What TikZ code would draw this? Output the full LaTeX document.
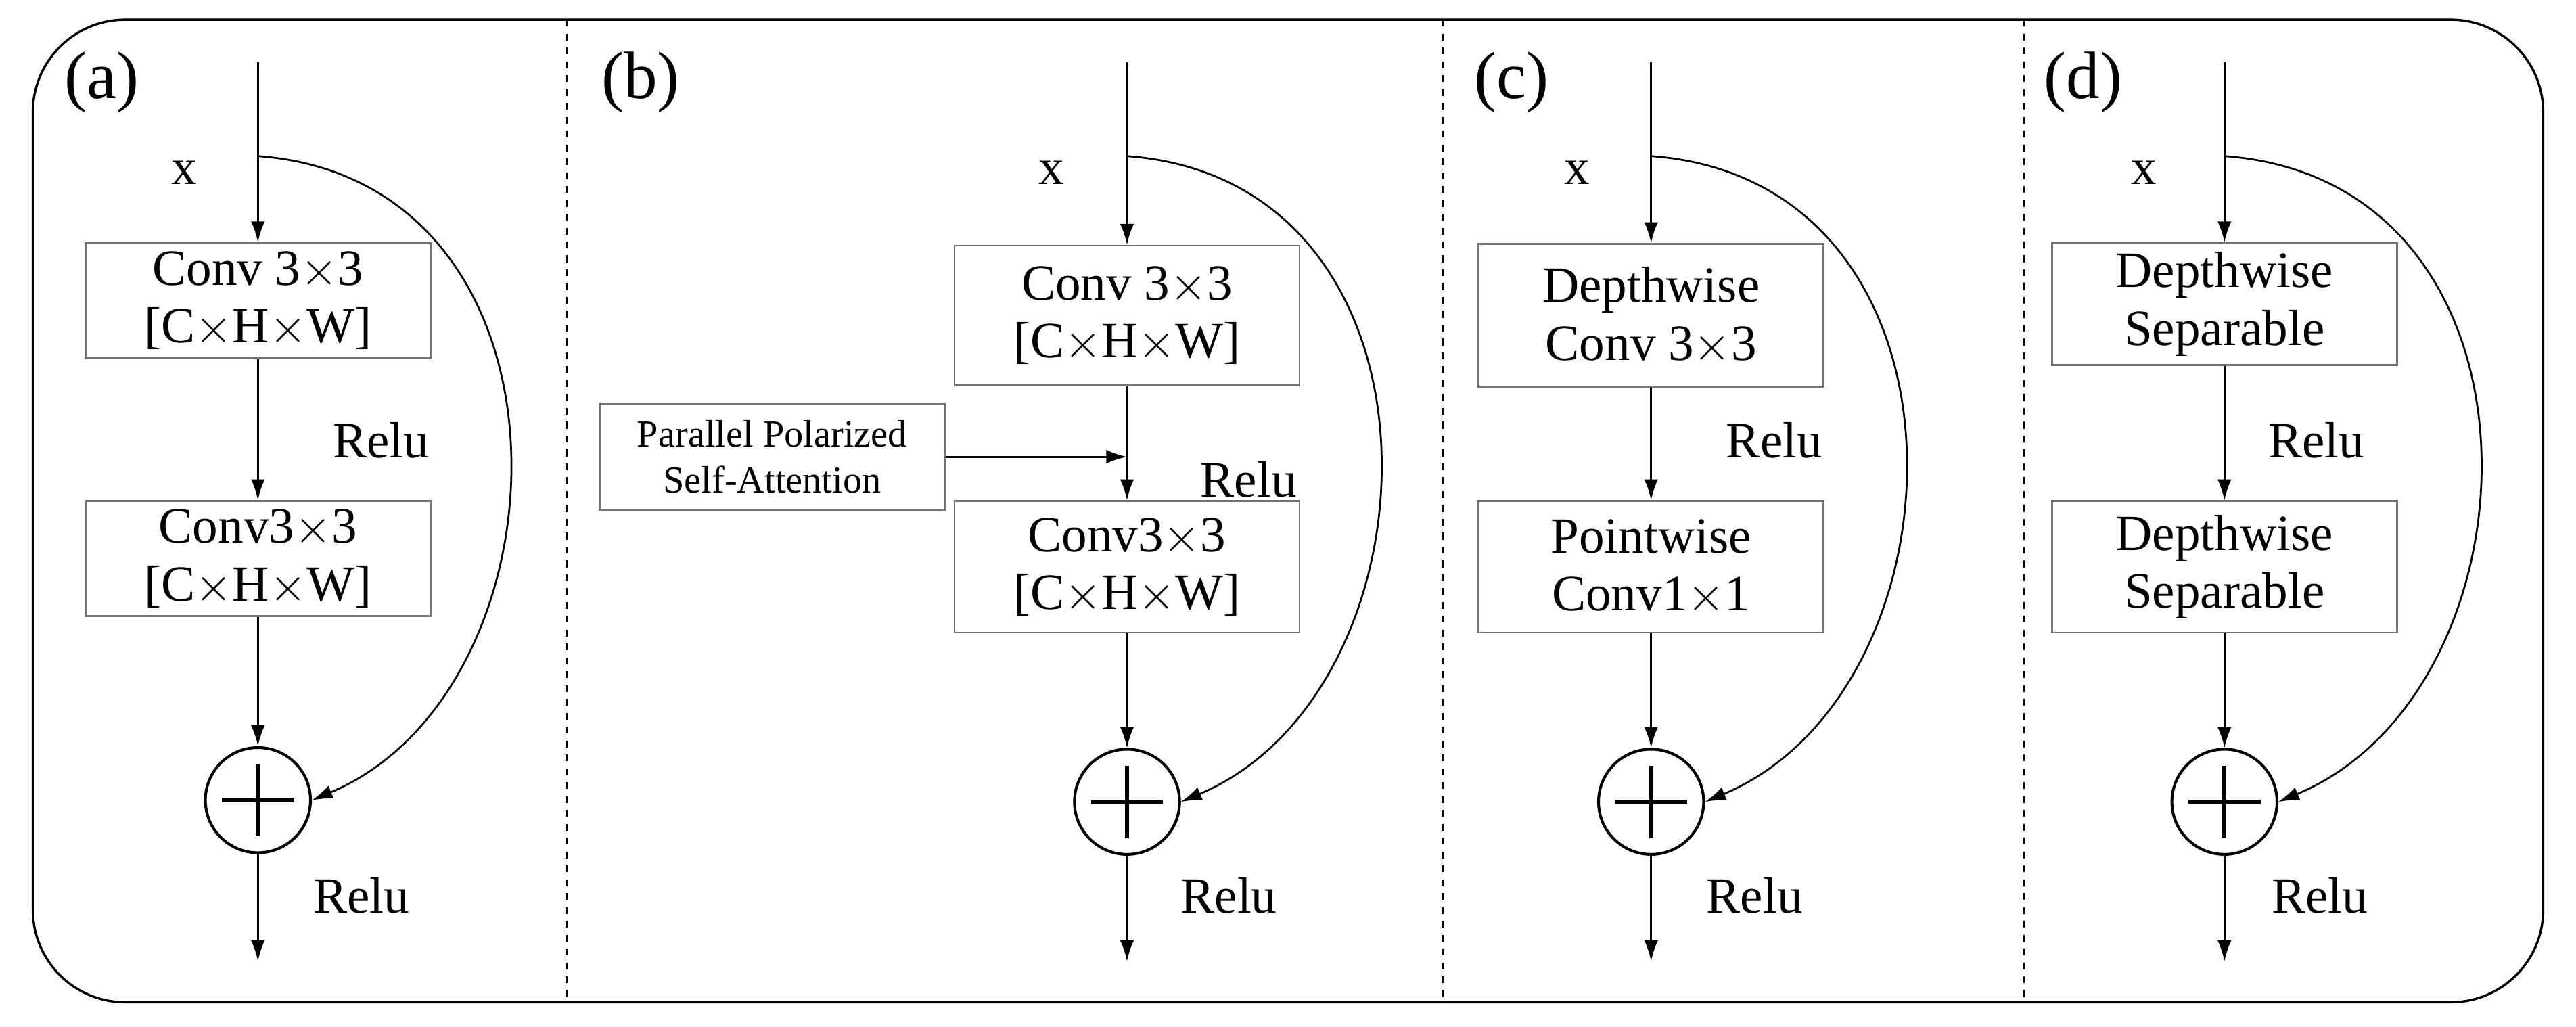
\documentclass[tikz,border=0pt]{standalone}
\usepackage{fontspec}
\setmainfont{Liberation Serif}
\usetikzlibrary{arrows.meta,positioning,calc}
\tikzset{
  blk/.style={draw=black!55, line width=0.8pt, align=center, inner sep=0pt,
    minimum width=105*0.025cm*2, font=\fontsize{22}{25}\selectfont},
  lbl/.style={font=\fontsize{22}{25}\selectfont, inner sep=0pt},
  tag/.style={font=\fontsize{29}{31}\selectfont, inner sep=0pt},
  sum/.style={draw, circle, line width=1.2pt, minimum size=64*0.025cm, inner sep=0pt},
  flow/.style={-{Latex[length=9pt,width=6pt]}, line width=0.8pt},
}
\newcommand{\PlusMark}[1]{
  \draw[line width=1.8pt] ($(#1)+(-22,0)$) -- ($(#1)+(22,0)$);
  \draw[line width=1.8pt] ($(#1)+(0,-22)$) -- ($(#1)+(0,22)$);
}
\newcommand{\CHW}{{}[C$\times$H$\times$W]}
\begin{document}
\begin{tikzpicture}[x=0.025cm,y=-0.025cm]
\useasboundingbox (0,0) rectangle (1568,625);
\draw[line width=1pt, rounded corners=40] (20,12) rectangle (1548,610);
\foreach \xd in {345,878,1232}
  \draw[dashed, line width=0.8pt] (\xd,12) -- (\xd,610);

% (a)
\node[tag] (ta) at (62,50) {(a)};
\coordinate (ain) at (157,38);
\node[lbl] (ax) at (112,105) {x};
\node[blk, minimum height=70*0.025cm] (a1) at (157,183) {Conv 3$\times$3\\\CHW};
\node[blk, minimum height=70*0.025cm] (a2) at (157,340) {Conv3$\times$3\\\CHW};
\node[lbl] (ar1) at (232,268) {Relu};
\node[sum] (as) at (157,487) {};
\PlusMark{as}
\node[lbl] (ar2) at (220,545) {Relu};
\coordinate (aout) at (157,585);
\draw[flow] (ain) -- (a1);
\draw[flow] (a1) -- (a2);
\draw[flow] (a2) -- (as);
\draw[flow] (as) -- (aout);
\draw[flow] (157,95) .. controls (360,110) and (350,420) .. (as.east);

% (b)
\node[tag] (tb) at (390,50) {(b)};
\coordinate (bin) at (686,38);
\node[lbl] (bx) at (640,105) {x};
\node[blk, minimum height=85*0.025cm] (b1) at (686,192) {Conv 3$\times$3\\\CHW};
\node[blk, minimum height=80*0.025cm] (b2) at (686,345) {Conv3$\times$3\\\CHW};
\node[blk, minimum height=65*0.025cm, font=\fontsize{16.5}{20}\selectfont] (bp) at (470,278) {Parallel Polarized\\Self-Attention};
\node[lbl] (br1) at (760,292) {Relu};
\node[sum] (bs) at (686,488) {};
\PlusMark{bs}
\node[lbl] (br2) at (748,545) {Relu};
\coordinate (bout) at (686,585);
\coordinate (bj) at (686,278);
\draw[flow] (bin) -- (b1);
\draw[flow] (b1) -- (b2);
\draw[flow] (bp.east) -- (bj);
\draw[flow] (b2) -- (bs);
\draw[flow] (bs) -- (bout);
\draw[flow] (686,95) .. controls (890,110) and (880,420) .. (bs.east);

% (c)
\node[tag] (tc) at (920,50) {(c)};
\coordinate (cin) at (1005,38);
\node[lbl] (cx) at (960,105) {x};
\node[blk, minimum height=87*0.025cm] (c1) at (1005,192) {Depthwise\\Conv 3$\times$3};
\node[blk, minimum height=80*0.025cm] (c2) at (1005,345) {Pointwise\\Conv1$\times$1};
\node[lbl] (cr1) at (1080,268) {Relu};
\node[sum] (cs) at (1005,488) {};
\PlusMark{cs}
\node[lbl] (cr2) at (1068,545) {Relu};
\coordinate (cout) at (1005,585);
\draw[flow] (cin) -- (c1);
\draw[flow] (c1) -- (c2);
\draw[flow] (c2) -- (cs);
\draw[flow] (cs) -- (cout);
\draw[flow] (1005,95) .. controls (1210,110) and (1200,420) .. (cs.east);

% (d)
\node[tag] (td) at (1268,50) {(d)};
\coordinate (din) at (1354,38);
\node[lbl] (dx) at (1305,105) {x};
\node[blk, minimum height=74*0.025cm] (d1) at (1354,185) {Depthwise\\Separable};
\node[blk, minimum height=80*0.025cm] (d2) at (1354,345) {Depthwise\\Separable};
\node[lbl] (dr1) at (1410,268) {Relu};
\node[sum] (ds) at (1354,488) {};
\PlusMark{ds}
\node[lbl] (dr2) at (1412,545) {Relu};
\coordinate (dout) at (1354,585);
\draw[flow] (din) -- (d1);
\draw[flow] (d1) -- (d2);
\draw[flow] (d2) -- (ds);
\draw[flow] (ds) -- (dout);
\draw[flow] (1354,95) .. controls (1560,110) and (1550,420) .. (ds.east);
\end{tikzpicture}
\end{document}
